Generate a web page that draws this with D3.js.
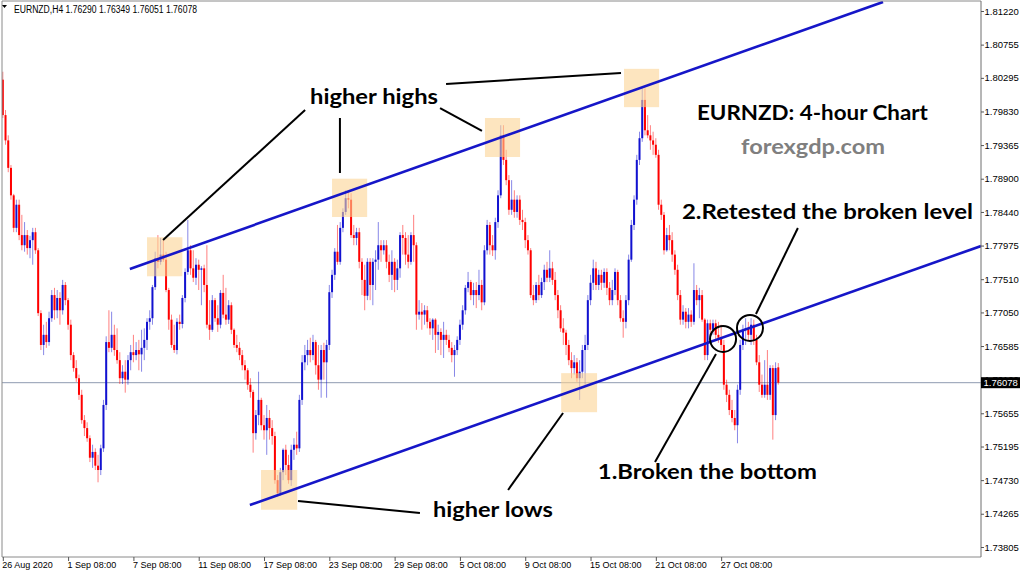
<!DOCTYPE html>
<html><head><meta charset="utf-8">
<script src="https://cdn.jsdelivr.net/npm/d3@7/dist/d3.min.js"></script>
<style>html,body{margin:0;padding:0;background:#fff;overflow:hidden}</style>
</head><body><svg id="c" width="1024" height="575"></svg>
<script>
const symbolLabel = "EURNZD,H4";
const opens = [
1.8027,1.7978,1.7943,1.7905,1.7867,1.7822,1.7854,1.7812,1.7798,1.7812,
1.7794,1.7805,1.7816,1.7791,1.7704,1.7660,1.7674,1.7664,1.7697,1.7729,
1.7708,1.7725,1.7708,1.7743,1.7722,1.7688,1.7646,1.7628,1.7614,1.7591,
1.7556,1.7545,1.7531,1.7504,1.7512,1.7493,1.7487,1.7517,1.7577,1.7664,
1.7656,1.7674,1.7653,1.7639,1.7614,1.7623,1.7612,1.7639,1.7650,1.7646,
1.7653,1.7647,1.7656,1.7667,1.7692,1.7697,1.7740,1.7780,1.7775,1.7785,
1.7778,1.7736,1.7695,1.7660,1.7653,1.7692,1.7689,1.7725,1.7761,1.7791,
1.7766,1.7753,1.7771,1.7764,1.7766,1.7743,1.7688,1.7681,1.7722,1.7697,
1.7688,1.7732,1.7702,1.7695,1.7715,1.7681,1.7660,1.7656,1.7646,1.7632,
1.7625,1.7605,1.7595,1.7538,1.7563,1.7584,1.7549,1.7542,1.7559,1.7545,
1.7534,1.7473,1.7455,1.7484,1.7515,1.7494,1.7473,1.7515,1.7522,1.7517,
1.7584,1.7636,1.7646,1.7653,1.7646,1.7664,1.7632,1.7612,1.7653,1.7636,
1.7660,1.7733,1.7757,1.7789,1.7775,1.7822,1.7844,1.7863,1.7861,1.7812,
1.7808,1.7816,1.7775,1.7750,1.7728,1.7775,1.7743,1.7775,1.7778,1.7798,
1.7791,1.7798,1.7775,1.7757,1.7775,1.7750,1.7766,1.7812,1.7808,1.7785,
1.7775,1.7812,1.7798,1.7702,1.7706,1.7702,1.7708,1.7692,1.7683,1.7695,
1.7674,1.7678,1.7667,1.7674,1.7667,1.7656,1.7646,1.7653,1.7667,1.7688,
1.7708,1.7739,1.7747,1.7729,1.7736,1.7729,1.7743,1.7719,1.7791,1.7826,
1.7798,1.7791,1.7830,1.7867,1.7950,1.7916,1.7888,1.7847,1.7861,1.7844,
1.7861,1.7833,1.7830,1.7805,1.7791,1.7729,1.7722,1.7743,1.7729,1.7747,
1.7764,1.7753,1.7766,1.7750,1.7729,1.7708,1.7683,1.7677,1.7660,1.7639,
1.7628,1.7636,1.7614,1.7623,1.7653,1.7660,1.7722,1.7746,1.7766,1.7743,
1.7757,1.7746,1.7761,1.7739,1.7722,1.7736,1.7761,1.7722,1.7697,1.7692,
1.7722,1.7778,1.7826,1.7861,1.7916,1.7946,1.7999,1.7957,1.7950,1.7943,
1.7937,1.7923,1.7854,1.7840,1.7791,1.7812,1.7805,1.7785,1.7764,1.7729,
1.7695,1.7706,1.7692,1.7702,1.7692,1.7736,1.7722,1.7729,1.7695,1.7646,
1.7690,1.7681,1.7690,1.7674,1.7670,1.7660,1.7605,1.7591,1.7570,1.7559,
1.7549,1.7598,1.7660,1.7681,1.7683,1.7674,1.7688,1.7667,1.7636,1.7605,
1.7591,1.7605,1.7591,1.7628,1.7563,1.76290];
const highs = [
1.8038,1.7985,1.7950,1.7909,1.7869,1.7861,1.7861,1.7840,1.7830,1.7819,
1.7811,1.7822,1.7822,1.7794,1.7708,1.7688,1.7692,1.7706,1.7736,1.7739,
1.7736,1.7733,1.7750,1.7747,1.7725,1.7695,1.7650,1.7639,1.7619,1.7598,
1.7563,1.7553,1.7535,1.7522,1.7517,1.7508,1.7522,1.7584,1.7672,1.7708,
1.7706,1.7688,1.7683,1.7650,1.7632,1.7639,1.7646,1.7660,1.7674,1.7664,
1.7667,1.7681,1.7683,1.7697,1.7708,1.7743,1.7789,1.7812,1.7808,1.7805,
1.7789,1.7739,1.7702,1.7688,1.7697,1.7702,1.7729,1.7766,1.7833,1.7798,
1.7791,1.7780,1.7778,1.7769,1.7771,1.7798,1.7722,1.7729,1.7725,1.7715,
1.7736,1.7757,1.7739,1.7722,1.7719,1.7683,1.7674,1.7664,1.7653,1.7639,
1.7628,1.7614,1.7598,1.7570,1.7623,1.7587,1.7563,1.7577,1.7570,1.7556,
1.7540,1.7480,1.7490,1.7517,1.7522,1.7508,1.7522,1.7531,1.7540,1.7591,
1.7646,1.7660,1.7667,1.7670,1.7674,1.7667,1.7660,1.7660,1.7663,1.7667,
1.7743,1.7764,1.7794,1.7826,1.7830,1.7849,1.7874,1.7872,1.7870,1.7826,
1.7822,1.7822,1.7780,1.7771,1.7780,1.7780,1.7780,1.7791,1.7830,1.7805,
1.7805,1.7805,1.7785,1.7791,1.7780,1.7778,1.7816,1.7826,1.7816,1.7812,
1.7816,1.7840,1.7802,1.7722,1.7718,1.7715,1.7714,1.7697,1.7697,1.7697,
1.7688,1.7683,1.7692,1.7681,1.7674,1.7664,1.7660,1.7672,1.7695,1.7715,
1.7743,1.7761,1.7750,1.7746,1.7747,1.7764,1.7750,1.7798,1.7833,1.7830,
1.7812,1.7836,1.7874,1.7964,1.7964,1.7930,1.7895,1.7888,1.7874,1.7867,
1.7867,1.7847,1.7836,1.7812,1.7794,1.7743,1.7747,1.7757,1.7753,1.7771,
1.7775,1.7791,1.7775,1.7761,1.7736,1.7715,1.7697,1.7681,1.7667,1.7650,
1.7646,1.7642,1.7639,1.7660,1.7674,1.7729,1.7757,1.7778,1.7775,1.7764,
1.7764,1.7766,1.7766,1.7747,1.7750,1.7766,1.7764,1.7729,1.7708,1.7729,
1.7785,1.7833,1.7867,1.7923,1.7955,1.8015,1.8015,1.7978,1.7964,1.7955,
1.7946,1.7930,1.7861,1.7844,1.7822,1.7826,1.7816,1.7791,1.7771,1.7736,
1.7715,1.7711,1.7711,1.7708,1.7773,1.7743,1.7739,1.7736,1.7697,1.7695,
1.7695,1.7695,1.7695,1.7692,1.7688,1.7667,1.7612,1.7598,1.7584,1.7570,
1.7605,1.7667,1.7688,1.7697,1.7692,1.7697,1.7695,1.7674,1.7646,1.7619,
1.7639,1.7653,1.7632,1.7632,1.7636,1.76349];
const lows = [
1.7974,1.7937,1.7899,1.7861,1.7816,1.7816,1.7805,1.7791,1.7789,1.7785,
1.7780,1.7771,1.7786,1.7700,1.7653,1.7646,1.7656,1.7659,1.7692,1.7695,
1.7697,1.7688,1.7702,1.7715,1.7681,1.7639,1.7623,1.7609,1.7584,1.7551,
1.7534,1.7526,1.7498,1.7490,1.7487,1.7470,1.7480,1.7512,1.7570,1.7650,
1.7650,1.7645,1.7634,1.7606,1.7606,1.7594,1.7605,1.7625,1.7636,1.7639,
1.7625,1.7623,1.7639,1.7653,1.7681,1.7688,1.7736,1.7766,1.7771,1.7775,
1.7733,1.7681,1.7656,1.7649,1.7647,1.7681,1.7683,1.7719,1.7757,1.7757,
1.7747,1.7743,1.7736,1.7715,1.7733,1.7683,1.7667,1.7678,1.7692,1.7678,
1.7683,1.7697,1.7688,1.7689,1.7675,1.7656,1.7650,1.7639,1.7625,1.7612,
1.7598,1.7587,1.7511,1.7529,1.7549,1.7542,1.7529,1.7508,1.7529,1.7522,
1.7468,1.7450,1.7451,1.7473,1.7480,1.7468,1.7465,1.7501,1.7508,1.7512,
1.7577,1.7625,1.7632,1.7636,1.7639,1.7619,1.7598,1.7587,1.7612,1.7587,
1.7653,1.7725,1.7750,1.7771,1.7771,1.7816,1.7840,1.7849,1.7808,1.7798,
1.7798,1.7766,1.7729,1.7708,1.7722,1.7722,1.7715,1.7736,1.7764,1.7775,
1.7785,1.7766,1.7747,1.7736,1.7733,1.7736,1.7753,1.7785,1.7771,1.7766,
1.7771,1.7775,1.7681,1.7695,1.7681,1.7688,1.7683,1.7674,1.7667,1.7649,
1.7653,1.7646,1.7642,1.7660,1.7650,1.7636,1.7616,1.7646,1.7660,1.7681,
1.7702,1.7733,1.7722,1.7715,1.7711,1.7722,1.7708,1.7715,1.7785,1.7785,
1.7783,1.7778,1.7822,1.7863,1.7909,1.7881,1.7840,1.7840,1.7836,1.7836,
1.7826,1.7819,1.7794,1.7785,1.7725,1.7715,1.7718,1.7722,1.7725,1.7736,
1.7747,1.7747,1.7743,1.7722,1.7697,1.7678,1.7660,1.7646,1.7632,1.7614,
1.7619,1.7609,1.7584,1.7614,1.7605,1.7653,1.7715,1.7736,1.7736,1.7736,
1.7736,1.7739,1.7729,1.7715,1.7715,1.7729,1.7715,1.7692,1.7670,1.7683,
1.7715,1.7775,1.7819,1.7854,1.7909,1.7941,1.7950,1.7946,1.7930,1.7923,
1.7919,1.7847,1.7833,1.7785,1.7789,1.7791,1.7775,1.7757,1.7722,1.7688,
1.7688,1.7683,1.7683,1.7685,1.7688,1.7715,1.7697,1.7692,1.7639,1.7639,
1.7670,1.7674,1.7667,1.7663,1.7653,1.7598,1.7581,1.7563,1.7553,1.7542,
1.7524,1.7591,1.7653,1.7660,1.7667,1.7660,1.7660,1.7632,1.7595,1.7587,
1.7587,1.7584,1.7584,1.7529,1.7556,1.76051];
const closes = [
1.7978,1.7943,1.7905,1.7867,1.7822,1.7854,1.7812,1.7798,1.7812,1.7794,
1.7805,1.7816,1.7791,1.7704,1.7660,1.7674,1.7664,1.7697,1.7729,1.7708,
1.7725,1.7708,1.7743,1.7722,1.7688,1.7646,1.7628,1.7614,1.7591,1.7556,
1.7545,1.7531,1.7504,1.7512,1.7493,1.7487,1.7517,1.7577,1.7664,1.7656,
1.7674,1.7653,1.7639,1.7614,1.7623,1.7612,1.7639,1.7650,1.7646,1.7653,
1.7647,1.7656,1.7667,1.7692,1.7697,1.7740,1.7780,1.7775,1.7785,1.7778,
1.7736,1.7695,1.7660,1.7653,1.7692,1.7689,1.7725,1.7761,1.7791,1.7766,
1.7753,1.7771,1.7764,1.7766,1.7743,1.7688,1.7681,1.7722,1.7697,1.7688,
1.7732,1.7702,1.7695,1.7715,1.7681,1.7660,1.7656,1.7646,1.7632,1.7625,
1.7605,1.7595,1.7538,1.7563,1.7584,1.7549,1.7542,1.7559,1.7545,1.7534,
1.7473,1.7455,1.7484,1.7515,1.7494,1.7473,1.7515,1.7522,1.7517,1.7584,
1.7636,1.7646,1.7653,1.7646,1.7664,1.7632,1.7612,1.7653,1.7636,1.7660,
1.7733,1.7757,1.7789,1.7775,1.7822,1.7844,1.7863,1.7861,1.7812,1.7808,
1.7816,1.7775,1.7750,1.7728,1.7775,1.7743,1.7775,1.7778,1.7798,1.7791,
1.7798,1.7775,1.7757,1.7775,1.7750,1.7766,1.7812,1.7808,1.7785,1.7775,
1.7812,1.7798,1.7702,1.7706,1.7702,1.7708,1.7692,1.7683,1.7695,1.7674,
1.7678,1.7667,1.7674,1.7667,1.7656,1.7646,1.7653,1.7667,1.7688,1.7708,
1.7739,1.7747,1.7729,1.7736,1.7729,1.7743,1.7719,1.7791,1.7826,1.7798,
1.7791,1.7830,1.7867,1.7950,1.7916,1.7888,1.7847,1.7861,1.7844,1.7861,
1.7833,1.7830,1.7805,1.7791,1.7729,1.7722,1.7743,1.7729,1.7747,1.7764,
1.7753,1.7766,1.7750,1.7729,1.7708,1.7683,1.7677,1.7660,1.7639,1.7628,
1.7636,1.7614,1.7623,1.7653,1.7660,1.7722,1.7746,1.7766,1.7743,1.7757,
1.7746,1.7761,1.7739,1.7722,1.7736,1.7761,1.7722,1.7697,1.7692,1.7722,
1.7778,1.7826,1.7861,1.7916,1.7946,1.7999,1.7957,1.7950,1.7943,1.7937,
1.7923,1.7854,1.7840,1.7791,1.7812,1.7805,1.7785,1.7764,1.7729,1.7695,
1.7706,1.7692,1.7702,1.7692,1.7736,1.7722,1.7729,1.7695,1.7646,1.7690,
1.7681,1.7690,1.7674,1.7670,1.7660,1.7605,1.7591,1.7570,1.7559,1.7549,
1.7598,1.7660,1.7681,1.7683,1.7674,1.7688,1.7667,1.7636,1.7605,1.7591,
1.7605,1.7591,1.7628,1.7563,1.7628,1.76078];

const timeTickIndex = [0,24,48,72,96,120,144,168,192,216,240,264];
const timeTickLabels = ["26 Aug 2020","1 Sep 08:00","7 Sep 08:00","11 Sep 08:00","17 Sep 08:00","23 Sep 08:00","29 Sep 08:00","5 Oct 08:00","9 Oct 08:00","15 Oct 08:00","21 Oct 08:00","27 Oct 08:00"];
const priceTicks = [1.81220,1.80755,1.80295,1.79830,1.79365,1.78900,1.78440,1.77975,1.77510,1.77050,1.76585,1.76120,1.75655,1.75195,1.74730,1.74265,1.73805];
const lastPrice = 1.76078;

// annotations in data space: [bar index, price]
const trendLines = [
  [[46.7,1.77651],[323.5,1.81345]],
  [[90.8,1.74386],[359.5,1.77969]]
];
const zones = [ // [idx0, idx1, priceTop, priceBottom]
  [53.0,66.0,1.7809,1.7755],
  [121.0,133.9,1.7890,1.7837],
  [177.2,190.1,1.7974,1.7920],
  [228.3,241.2,1.8042,1.7989],
  [205.2,218.4,1.7621,1.7567],
  [94.9,108.2,1.7487,1.7432]
];
const calloutLines = [
  [[111.1,1.79850],[58.9,1.78052]],
  [[123.9,1.79740],[123.9,1.78979]],
  [[160.7,1.79878],[176.1,1.79560]],
  [[162.9,1.80210],[227.2,1.80362]],
  [[108.5,1.74441],[153.3,1.74275]],
  [[185.7,1.74594],[205.9,1.75659]],
  [[262.1,1.76475],[239.7,1.74981]],
  [[276.8,1.77028],[292.2,1.78218]]
];
const circles = [[264.7,1.76683],[274.6,1.76835]];
const notes = [ // text, idx, price(baseline), width, color
  ["higher highs",112.9,1.79933,128,"#000"],
  ["EURNZD: 4-hour Chart",255.1,1.79712,231,"#000"],
  ["forexgdp.com",271.3,1.79242,144,"#7f7f7f"],
  ["2.Retested the broken level",249.6,1.78343,291,"#000"],
  ["1.Broken the bottom",218.7,1.74746,219,"#000"],
  ["higher lows",158.1,1.74220,120,"#000"]
];

const L = 2, T = 1, R = 981, B = 557;
const svg = d3.select("#c");
const x = d3.scaleLinear().domain([0, 359.5]).range([2.8, R]);
const y = d3.scaleLinear().domain([1.73805, 1.81220]).range([547, 11]);
const yl = y(lastPrice);

svg.append("defs").append("clipPath").attr("id","plot")
  .append("rect").attr("x",L).attr("y",T).attr("width",R-L).attr("height",B-T);

// price line
svg.append("line").attr("x1",L).attr("x2",R).attr("y1",yl).attr("y2",yl)
  .attr("stroke","#8e9bb0").attr("stroke-width",1);

const bars = opens.map((o,i)=>({i,o,h:highs[i],l:lows[i],c:closes[i]}));
const BLUE = "#1212d0", RED = "#ff0000";
const cg = svg.append("g").attr("clip-path","url(#plot)");
cg.selectAll("line.w").data(bars).join("line").attr("class","w")
  .attr("x1",d=>x(d.i)).attr("x2",d=>x(d.i))
  .attr("y1",d=>y(d.h)).attr("y2",d=>y(d.l))
  .attr("stroke",d=>d.c>=d.o?BLUE:RED).attr("stroke-width",1).attr("stroke-opacity",0.5);
cg.selectAll("rect.b").data(bars).join("rect").attr("class","b")
  .attr("x",d=>x(d.i)-1).attr("width",2)
  .attr("y",d=>y(Math.max(d.o,d.c)))
  .attr("height",d=>Math.max(1,Math.abs(y(d.o)-y(d.c))))
  .attr("fill",d=>d.c>=d.o?BLUE:RED);

// zones
cg.selectAll("rect.z").data(zones).join("rect").attr("class","z")
  .attr("x",d=>x(d[0])).attr("width",d=>x(d[1])-x(d[0]))
  .attr("y",d=>y(d[2])).attr("height",d=>y(d[3])-y(d[2]))
  .attr("fill","#fbd394").attr("fill-opacity",0.6);

// trend lines
cg.selectAll("line.t").data(trendLines).join("line").attr("class","t")
  .attr("x1",d=>x(d[0][0])).attr("y1",d=>y(d[0][1]))
  .attr("x2",d=>x(d[1][0])).attr("y2",d=>y(d[1][1]))
  .attr("stroke","#1616c8").attr("stroke-width",2.6);

// callouts
svg.selectAll("line.cl").data(calloutLines).join("line").attr("class","cl")
  .attr("x1",d=>x(d[0][0])).attr("y1",d=>y(d[0][1]))
  .attr("x2",d=>x(d[1][0])).attr("y2",d=>y(d[1][1]))
  .attr("stroke","#000").attr("stroke-width",2);
svg.selectAll("circle.cc").data(circles).join("circle").attr("class","cc")
  .attr("cx",d=>x(d[0])).attr("cy",d=>y(d[1])).attr("r",13)
  .attr("fill","none").attr("stroke","#000").attr("stroke-width",2);

svg.selectAll("text.n").data(notes).join("text").attr("class","n")
  .attr("x",d=>x(d[1])).attr("y",d=>y(d[2]))
  .attr("textLength",d=>d[3]).attr("lengthAdjust","spacingAndGlyphs")
  .attr("fill",d=>d[4])
  .style("font-family","Lato, 'Open Sans', sans-serif").style("font-weight","700").style("font-size","20px")
  .text(d=>d[0]);

// borders
const bc = "#8a8a8a";
svg.append("line").attr("x1",L).attr("x2",L).attr("y1",T).attr("y2",B).attr("stroke",bc);
svg.append("line").attr("x1",L).attr("x2",R).attr("y1",T).attr("y2",T).attr("stroke",bc);
svg.append("line").attr("x1",L).attr("x2",R).attr("y1",B).attr("y2",B).attr("stroke",bc);
svg.append("line").attr("x1",R).attr("x2",R).attr("y1",T).attr("y2",B).attr("stroke","#6e6e6e");

// axes
const fmt = d3.format(".5f");
const ya = svg.append("g").attr("transform",`translate(${R},0)`)
  .call(d3.axisRight(y).tickValues(priceTicks).tickSize(3).tickPadding(0.5).tickFormat(fmt));
ya.select(".domain").remove();
ya.selectAll("line").attr("stroke","#555");
ya.selectAll("text").style("font-family","'Liberation Sans', Arial, sans-serif").style("font-size","9.5px").attr("fill","#000");

const xa = svg.append("g").attr("transform",`translate(0,${B})`)
  .call(d3.axisBottom(x).tickValues(timeTickIndex).tickSize(4).tickPadding(1).tickFormat((d,i)=>timeTickLabels[i]));
xa.select(".domain").remove();
xa.selectAll("line").attr("stroke","#555");
xa.selectAll("text").attr("text-anchor","start").attr("x",-1)
  .style("font-family","'Liberation Sans', Arial, sans-serif").style("font-size","9px").attr("fill","#000");

// last price tag (covers the tick label beneath it, as in the terminal)
svg.append("rect").attr("x",R).attr("y",yl-5.5).attr("width",39).attr("height",11).attr("fill","#000");
svg.append("text").attr("x",R+2.5).attr("y",yl).attr("dy","0.35em").attr("fill","#fff")
  .style("font-family","'Liberation Sans', Arial, sans-serif").style("font-size","9.5px").text(fmt(lastPrice));

// header
svg.append("path").attr("d","M2,5 L7,5 L4.5,8 Z").attr("fill","#000");
svg.append("text").attr("x",14).attr("y",12.5)
  .attr("textLength",183).attr("lengthAdjust","spacingAndGlyphs")
  .style("font-family","'Liberation Sans', Arial, sans-serif").style("font-size","10px").attr("fill","#000")
  .text(`${symbolLabel}  ${fmt(opens[opens.length-1])} ${fmt(highs[highs.length-1])} ${fmt(lows[lows.length-1])} ${fmt(closes[closes.length-1])}`);
</script></body></html>
